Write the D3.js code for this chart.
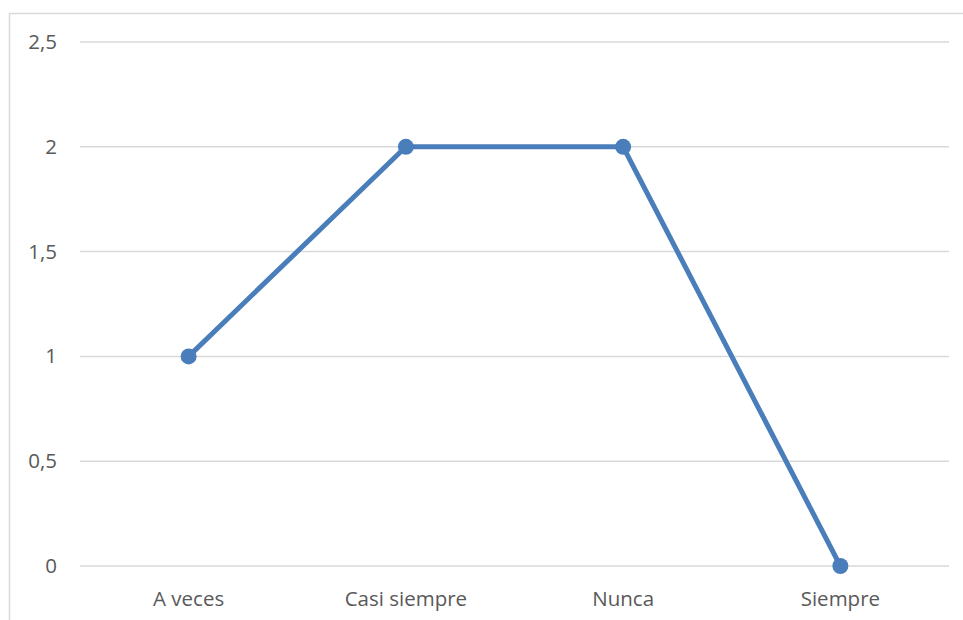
<!DOCTYPE html>
<html>
<head>
<meta charset="utf-8">
<script src="https://cdn.jsdelivr.net/npm/d3@7"></script>
<style>
  html, body { margin: 0; padding: 0; background: #fff; }
  svg { display: block; }
  .tick text { font-family: "Open Sans", Lato, sans-serif; font-size: 20.5px; fill: #595959; }
</style>
</head>
<body>
<svg id="chart" width="963" height="620"></svg>
<script>
// Responses per category
const categories = ["A veces", "Casi siempre", "Nunca", "Siempre"];
const values = [1, 2, 2, 0];
const yTicks = [0, 0.5, 1, 1.5, 2, 2.5];
const yTickLabels = ["0", "0,5", "1", "1,5", "2", "2,5"];

(function () {
  const svg = d3.select("#chart");
  const W = 963, H = 620;

  // Chart-area frame
  svg.append("rect")
    .attr("x", 9.5).attr("y", 13.5)
    .attr("width", W + 20).attr("height", H + 20)
    .attr("fill", "#fff")
    .attr("stroke", "#d9d9d9")
    .attr("stroke-width", 1.5);

  const plotLeft = 80, plotRight = 949, plotTop = 42, plotBottom = 566;

  const x = d3.scaleBand().domain(categories).range([plotLeft, plotRight]);
  const y = d3.scaleLinear().domain([0, 2.5]).range([plotBottom, plotTop]);

  // Horizontal gridlines
  svg.append("g")
    .selectAll("line")
    .data(yTicks)
    .join("line")
    .attr("x1", plotLeft).attr("x2", plotRight)
    .attr("y1", d => y(d)).attr("y2", d => y(d))
    .attr("stroke", "#d9d9d9")
    .attr("stroke-width", 1.5);

  // Y axis labels
  const yAxis = d3.axisLeft(y)
    .tickValues(yTicks)
    .tickFormat((d, i) => yTickLabels[i])
    .tickSize(0)
    .tickPadding(23);
  const gy = svg.append("g").attr("transform", `translate(${plotLeft},0)`).call(yAxis);
  gy.select(".domain").remove();

  // X axis labels
  const xAxis = d3.axisBottom(x).tickSize(0).tickPadding(25);
  const gx = svg.append("g").attr("transform", `translate(0,${plotBottom})`).call(xAxis);
  gx.select(".domain").remove();

  // Series line
  const cx = (d, i) => x(categories[i]) + x.bandwidth() / 2;
  const line = d3.line().x(cx).y(d => y(d));

  svg.append("path")
    .datum(values)
    .attr("d", line)
    .attr("fill", "none")
    .attr("stroke", "#4a7ebb")
    .attr("stroke-width", 5)
    .attr("stroke-linejoin", "round");

  // Markers
  svg.append("g")
    .selectAll("circle")
    .data(values)
    .join("circle")
    .attr("cx", cx)
    .attr("cy", d => y(d))
    .attr("r", 8)
    .attr("fill", "#4a7ebb");
})();
</script>
</body>
</html>
